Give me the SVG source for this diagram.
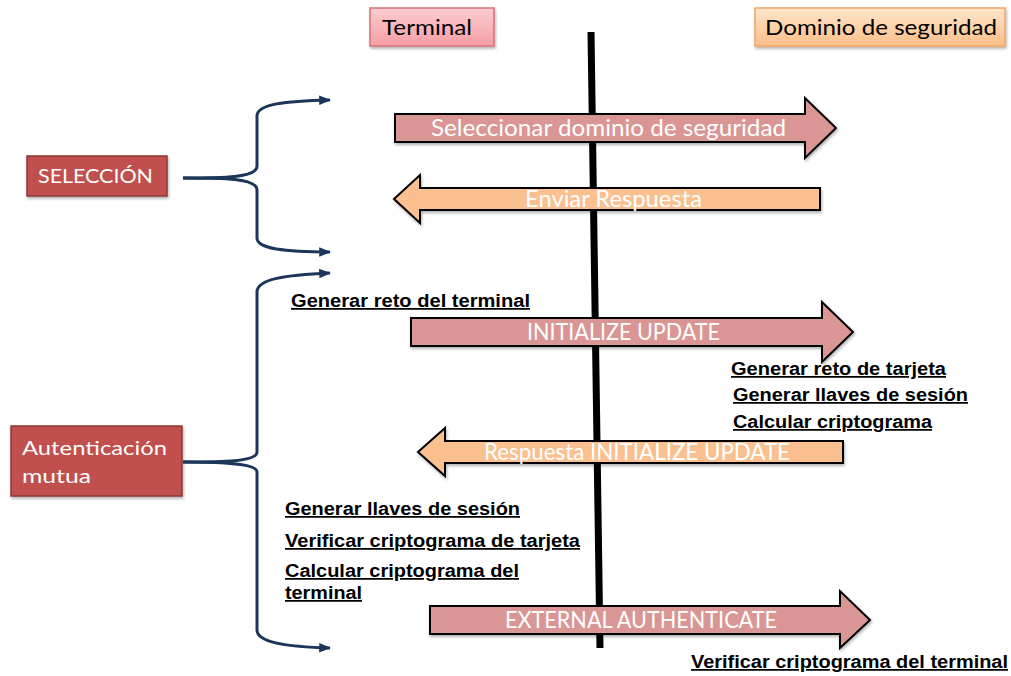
<svg xmlns="http://www.w3.org/2000/svg" width="1011" height="676" viewBox="0 0 1011 676">
  <defs>
    <linearGradient id="gTerm" x1="0" y1="0" x2="0" y2="1">
      <stop offset="0" stop-color="#fccdd0"/>
      <stop offset="1" stop-color="#f59ea4"/>
    </linearGradient>
    <linearGradient id="gDom" x1="0" y1="0" x2="0" y2="1">
      <stop offset="0" stop-color="#fee6cc"/>
      <stop offset="1" stop-color="#fbbe88"/>
    </linearGradient>
    <filter id="shadow" x="-10%" y="-20%" width="120%" height="150%">
      <feDropShadow dx="1" dy="2" stdDeviation="1.5" flood-color="#000" flood-opacity="0.3"/>
    </filter>
    <marker id="head" viewBox="0 0 10 8" refX="9" refY="4" markerWidth="4" markerHeight="3.2" orient="auto" markerUnits="strokeWidth">
      <path d="M0,0 L10,4 L0,8 z" fill="#1b3659"/>
    </marker>
  </defs>
  <style>
    .cal { font-family: Lato, "Open Sans", "Liberation Sans", sans-serif; }
    .hdr { font-size: 21px; fill: #000; }
    .phase { font-size: 20px; fill: #fff; }
    .msg { font-size: 23px; fill: #fff; }
    .note { font-family: "Liberation Sans", Arial, sans-serif; font-weight: bold; font-size: 17.5px; fill: #000; text-decoration: underline; }
    .pink { fill: #d99694; stroke: #000; stroke-width: 2; }
    .orange { fill: #fac090; stroke: #000; stroke-width: 2; }
    .brace { fill: none; stroke: #1b3659; stroke-width: 3; marker-end: url(#head); }
    .phasebox { fill: #c0504d; stroke: #8c3836; stroke-width: 1.5; }
  </style>

  <rect width="1011" height="676" fill="#fff"/>

  <!-- lifeline between terminal and security domain -->
  <line x1="591" y1="32" x2="600" y2="648" stroke="#000" stroke-width="7"/>

  <!-- headers -->
  <g id="terminal">
    <rect x="370" y="8" width="124" height="38" fill="url(#gTerm)" stroke="#d9707a" stroke-width="1.5" filter="url(#shadow)"/>
    <text class="cal hdr" x="382" y="35" textLength="90" lengthAdjust="spacingAndGlyphs">Terminal</text>
  </g>
  <g id="dominio">
    <rect x="755" y="8" width="250" height="38" fill="url(#gDom)" stroke="#f4a460" stroke-width="1.5" filter="url(#shadow)"/>
    <text class="cal hdr" x="765" y="35" textLength="232" lengthAdjust="spacingAndGlyphs">Dominio de seguridad</text>
  </g>

  <!-- phase labels -->
  <g id="seleccion">
    <rect class="phasebox" x="27" y="156" width="140" height="40" filter="url(#shadow)"/>
    <text class="cal phase" x="38" y="183" textLength="115" lengthAdjust="spacingAndGlyphs">SELECCIÓN</text>
  </g>
  <g id="autenticacion">
    <rect class="phasebox" x="11" y="426" width="171" height="70" filter="url(#shadow)"/>
    <text class="cal phase" x="22" y="455" textLength="145" lengthAdjust="spacingAndGlyphs">Autenticación</text>
    <text class="cal phase" x="22" y="483" textLength="69" lengthAdjust="spacingAndGlyphs">mutua</text>
  </g>

  <!-- connectors: braces grouping the phases -->
  <g id="connectors">
    <path class="brace" d="M183,178 C222,178 257,178 257,166 L257,116 C257,104 285,101 330,100"/>
    <path class="brace" d="M183,178 C222,178 257,178 257,190 L257,238 C257,249 285,252 330,252"/>
    <path class="brace" d="M183,462 C222,462 257,462 257,452 L257,292 C257,279 285,275 330,273"/>
    <path class="brace" d="M183,462 C222,462 257,463 257,472 L257,630 C257,642 285,647 330,648"/>
  </g>

  <!-- messages -->
  <g id="msg-seleccionar">
    <path class="pink" d="M395,114 L805,114 L805,98 L836,128 L805,158 L805,142 L395,142 z" filter="url(#shadow)"/>
    <text class="cal msg" x="431" y="136" textLength="355" lengthAdjust="spacingAndGlyphs">Seleccionar dominio de seguridad</text>
  </g>
  <g id="msg-enviar">
    <path class="orange" d="M820,188 L420,188 L420,175 L394,199 L420,223 L420,210 L820,210 z" filter="url(#shadow)"/>
    <text class="cal msg" x="525" y="207" textLength="177" lengthAdjust="spacingAndGlyphs">Enviar Respuesta</text>
  </g>
  <g id="msg-initialize">
    <path class="pink" d="M411,318 L822,318 L822,302 L853,332 L822,362 L822,346 L411,346 z" filter="url(#shadow)"/>
    <text class="cal msg" x="527" y="340" textLength="193" lengthAdjust="spacingAndGlyphs">INITIALIZE UPDATE</text>
  </g>
  <g id="msg-respuesta">
    <path class="orange" d="M843,441 L445,441 L445,428 L418,452 L445,476 L445,463 L843,463 z" filter="url(#shadow)"/>
    <text class="cal msg" x="484" y="460" textLength="306" lengthAdjust="spacingAndGlyphs">Respuesta INITIALIZE UPDATE</text>
  </g>
  <g id="msg-external">
    <path class="pink" d="M430,606 L840,606 L840,591 L870,620 L840,648 L840,634 L430,634 z" filter="url(#shadow)"/>
    <text class="cal msg" x="505" y="628" textLength="272" lengthAdjust="spacingAndGlyphs">EXTERNAL AUTHENTICATE</text>
  </g>

  <!-- processing steps -->
  <g id="notes">
    <text class="note" x="291" y="307" textLength="239" lengthAdjust="spacingAndGlyphs">Generar reto del terminal</text>
    <text class="note" x="731" y="375" textLength="215" lengthAdjust="spacingAndGlyphs">Generar reto de tarjeta</text>
    <text class="note" x="733" y="401" textLength="235" lengthAdjust="spacingAndGlyphs">Generar llaves de sesión</text>
    <text class="note" x="733" y="428" textLength="199" lengthAdjust="spacingAndGlyphs">Calcular criptograma</text>
    <text class="note" x="285" y="515" textLength="235" lengthAdjust="spacingAndGlyphs">Generar llaves de sesión</text>
    <text class="note" x="285" y="547" textLength="295" lengthAdjust="spacingAndGlyphs">Verificar criptograma de tarjeta</text>
    <text class="note" x="285" y="577" textLength="234" lengthAdjust="spacingAndGlyphs">Calcular criptograma del</text>
    <text class="note" x="285" y="599" textLength="77" lengthAdjust="spacingAndGlyphs">terminal</text>
    <text class="note" x="691" y="668" textLength="317" lengthAdjust="spacingAndGlyphs">Verificar criptograma del terminal</text>
  </g>
</svg>
